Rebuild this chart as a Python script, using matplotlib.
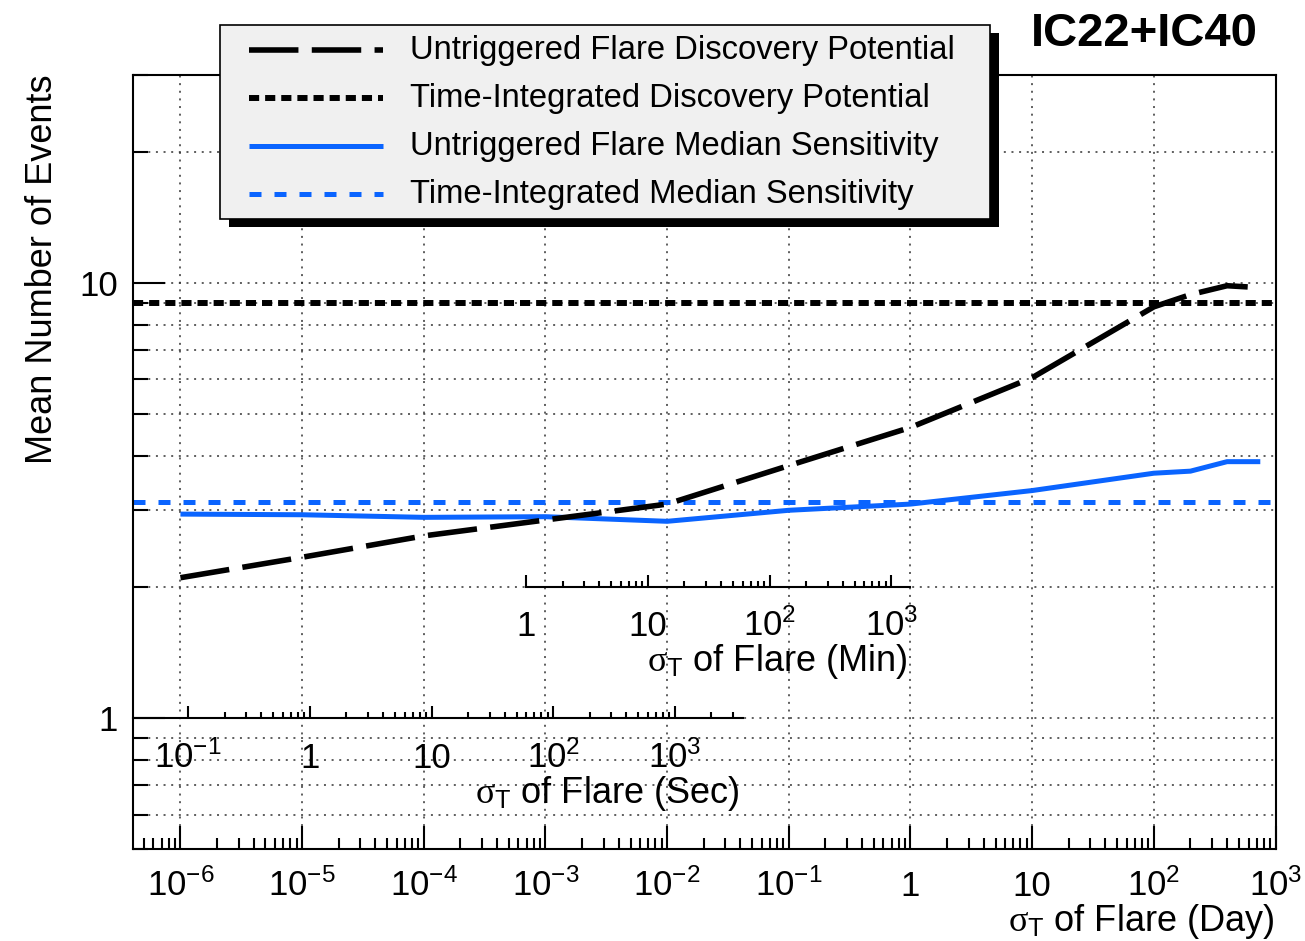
import numpy as np
import matplotlib
matplotlib.use("Agg")
import matplotlib.pyplot as plt
from matplotlib.lines import Line2D
from matplotlib.patches import Rectangle
from matplotlib.ticker import FixedLocator, FixedFormatter, NullFormatter

plt.rcParams["font.family"] = ["Liberation Sans", "DejaVu Sans"]
plt.rcParams["mathtext.fontset"] = "custom"
plt.rcParams["mathtext.rm"] = "Liberation Sans"
plt.rcParams["mathtext.it"] = "Liberation Serif"
plt.rcParams["mathtext.bf"] = "Liberation Sans:bold"

# ---------------------------------------------------------------- data
# flare width sigma_T in days
sigma_days = [1e-6, 1e-5, 1e-4, 1e-3, 1e-2, 1e-1, 1, 10, 100, 200, 400, 750]
# mean number of events needed
flare_discovery = [2.10, 2.34, 2.62, 2.85, 3.10, 3.80, 4.65, 6.05, 8.80, 9.39, 9.84, 9.74]
flare_sensitivity = [2.94, 2.93, 2.89, 2.90, 2.83, 3.00, 3.10, 3.33, 3.65, 3.69, 3.88, 3.88]
time_int_discovery = 9.0
time_int_sensitivity = 3.13

legend_labels = [
    "Untriggered Flare Discovery Potential",
    "Time-Integrated Discovery Potential",
    "Untriggered Flare Median Sensitivity",
    "Time-Integrated Median Sensitivity",
]

day_ticks = [1e-6, 1e-5, 1e-4, 1e-3, 1e-2, 1e-1, 1, 10, 100, 1000]
day_tick_labels = [r"$\mathregular{10^{-6}}$", r"$\mathregular{10^{-5}}$",
                   r"$\mathregular{10^{-4}}$", r"$\mathregular{10^{-3}}$",
                   r"$\mathregular{10^{-2}}$", r"$\mathregular{10^{-1}}$",
                   "1", "10", r"$\mathregular{10^{2}}$", r"$\mathregular{10^{3}}$"]
sec_ticks = [0.1, 1, 10, 100, 1000]
sec_tick_labels = [r"$\mathregular{10^{-1}}$", "1", "10",
                   r"$\mathregular{10^{2}}$", r"$\mathregular{10^{3}}$"]
min_ticks = [1, 10, 100, 1000]
min_tick_labels = ["1", "10", r"$\mathregular{10^{2}}$", r"$\mathregular{10^{3}}$"]
y_ticks = [1, 10]
y_tick_labels = ["1", "10"]

SEC_PER_DAY = 86400.0
MIN_PER_DAY = 1440.0

# ---------------------------------------------------------------- styles
BLUE = "#0a64ff"
style_flare_disc = dict(color="black", lw=4.0, linestyle=(0, (8.9, 2.4)),
                        dash_capstyle="butt")
style_ti_disc = dict(color="black", lw=4.3, linestyle=(0, (1.7, 1.0)),
                     dash_capstyle="butt")
style_flare_sens = dict(color=BLUE, lw=3.6, solid_capstyle="butt")
style_ti_sens = dict(color=BLUE, lw=3.6, linestyle=(0, (2.4, 2.6)),
                     dash_capstyle="butt")
grid_style = dict(color="#333333", lw=1.1, linestyle=(0, (1.3, 3.7)))

W, H = 1305, 941
fig = plt.figure(figsize=(W / 100, H / 100), dpi=100)
fig.patch.set_facecolor("white")


def fx(px):
    return px / W


def fy(py):
    return 1 - py / H


ax = fig.add_axes([fx(133), fy(849), fx(1275.5) - fx(133), fy(75) - fy(849)])
ax.set_xscale("log")
ax.set_yscale("log")
ax.set_xlim(10 ** -6.39, 1e3)
ax.set_ylim(0.5, 30)

# ticks and grid
ax.xaxis.set_major_locator(FixedLocator(day_ticks))
ax.xaxis.set_major_formatter(FixedFormatter(day_tick_labels))
day_minor = [m * 10.0 ** e for e in range(-7, 3) for m in range(2, 10)]
ax.xaxis.set_minor_locator(FixedLocator(day_minor))
ax.xaxis.set_minor_formatter(NullFormatter())
ax.yaxis.set_major_locator(FixedLocator(y_ticks))
ax.yaxis.set_major_formatter(FixedFormatter(y_tick_labels))
y_minor = [m * 10.0 ** e for e in (-1, 0, 1) for m in range(2, 10)]
ax.yaxis.set_minor_locator(FixedLocator(y_minor))
ax.yaxis.set_minor_formatter(NullFormatter())
ax.grid(True, which="major", axis="x", **grid_style)
ax.grid(True, which="both", axis="y", **grid_style)
ax.set_axisbelow(True)

for s in ax.spines.values():
    s.set_linewidth(1.5)

ax.tick_params(axis="x", which="both", direction="in", top=False, width=1.5,
               labelsize=25, pad=34)
ax.tick_params(axis="x", which="major", length=16.5)
ax.tick_params(axis="x", which="minor", length=8)
ax.tick_params(axis="y", which="both", direction="in", right=False, width=1.5,
               labelsize=25, pad=11)
ax.tick_params(axis="y", which="major", length=23)
ax.tick_params(axis="y", which="minor", length=11)
for lab in ax.get_xticklabels():
    lab.set_va("baseline")

# curves
l_ti_disc = ax.axhline(time_int_discovery, **style_ti_disc)
l_ti_sens = ax.axhline(time_int_sensitivity, **style_ti_sens)
l_flare_sens, = ax.plot(sigma_days, flare_sensitivity, **style_flare_sens)
l_flare_disc, = ax.plot(sigma_days, flare_discovery, **style_flare_disc)

# ---------------------------------------------------------------- extra time axes
to_fig = ax.transData + fig.transFigure.inverted()


def add_time_axis(d_lo, d_hi, level, scale, ticks, labels, pad):
    x0, y0 = to_fig.transform((d_lo, level))
    x1, _ = to_fig.transform((d_hi, level))
    iax = fig.add_axes([x0, y0, x1 - x0, 1e-4])
    iax.set_xscale("log")
    lo, hi = d_lo * scale, d_hi * scale
    iax.set_xlim(lo, hi)
    iax.patch.set_visible(False)
    for s in ("top", "left", "right"):
        iax.spines[s].set_visible(False)
    iax.spines["bottom"].set_linewidth(1.5)
    iax.set_yticks([])
    iax.xaxis.set_major_locator(FixedLocator(ticks))
    iax.xaxis.set_major_formatter(FixedFormatter(labels))
    minor = [m * 10.0 ** e for e in range(-1, 4) for m in range(2, 10)]
    minor = [v for v in minor if ticks[0] < v <= hi]
    iax.xaxis.set_minor_locator(FixedLocator(minor))
    iax.xaxis.set_minor_formatter(NullFormatter())
    iax.tick_params(which="both", direction="in", width=1.5, labelsize=25, pad=pad)
    iax.tick_params(which="major", length=9)
    iax.tick_params(which="minor", length=4.5)
    for lab in iax.get_xticklabels():
        lab.set_va("baseline")
    return iax


xmin_day = ax.get_xlim()[0]
add_time_axis(xmin_day, 3600 / SEC_PER_DAY, 1.0, SEC_PER_DAY,
              sec_ticks, sec_tick_labels, pad=36)
add_time_axis(1 / MIN_PER_DAY, 1.0, 2.0, MIN_PER_DAY,
              min_ticks, min_tick_labels, pad=35)

# ---------------------------------------------------------------- titles
fig.text(fx(1274), fy(931), r"$\sigma_{\mathrm{T}}$ of Flare (Day)",
         ha="right", va="baseline", fontsize=26)
fig.text(fx(739), fy(803), r"$\sigma_{\mathrm{T}}$ of Flare (Sec)",
         ha="right", va="baseline", fontsize=26)
fig.text(fx(907), fy(671), r"$\sigma_{\mathrm{T}}$ of Flare (Min)",
         ha="right", va="baseline", fontsize=26)
fig.text(fx(43), fy(75), "Mean Number of Events", rotation=90,
         ha="center", va="top", fontsize=26)
fig.text(fx(1258), fy(46), "IC22+IC40", ha="right", va="baseline",
         fontsize=34, fontweight="bold")

# ---------------------------------------------------------------- legend box
box_l, box_r, box_t, box_b = 220, 990, 25, 219
shadow = Rectangle((fx(box_l + 9), fy(box_b + 8)), fx(box_r - box_l), fy(box_t) - fy(box_b),
                   transform=fig.transFigure, facecolor="black", edgecolor="none",
                   zorder=20)
frame = Rectangle((fx(box_l), fy(box_b)), fx(box_r - box_l), fy(box_t) - fy(box_b),
                  transform=fig.transFigure, facecolor="#f0f0f0", edgecolor="black",
                  lw=1.2, zorder=21)
fig.add_artist(shadow)
fig.add_artist(frame)

entries = [(style_flare_disc, legend_labels[0]),
           (style_ti_disc, legend_labels[1]),
           (style_flare_sens, legend_labels[2]),
           (style_ti_sens, legend_labels[3])]
baselines = [59, 107, 155, 203]
for (st, text), base in zip(entries, baselines):
    yl = fy(base - 9)
    fig.add_artist(Line2D([fx(249), fx(383)], [yl, yl], transform=fig.transFigure,
                          zorder=22, **st))
    fig.text(fx(410), fy(base), text, ha="left", va="baseline", fontsize=23.6,
             zorder=22)

fig.savefig("out.png", dpi=100)
